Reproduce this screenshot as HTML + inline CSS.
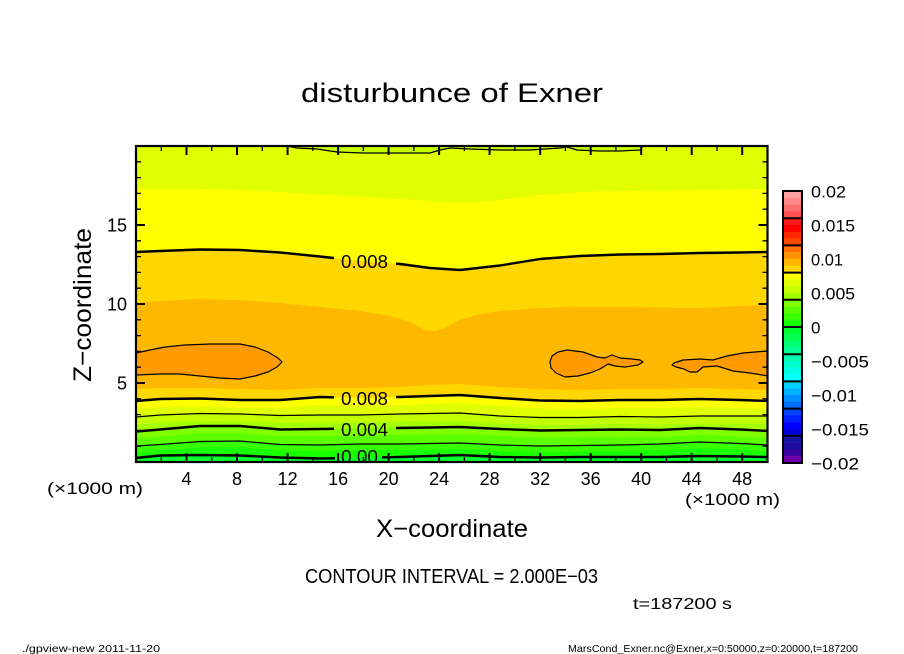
<!DOCTYPE html>
<html><head><meta charset="utf-8"><style>
html,body{margin:0;padding:0;background:#fff;}
svg{display:block;}
text{font-family:"Liberation Sans",sans-serif;fill:#000;}
</style></head><body>
<svg width="904" height="654" viewBox="0 0 904 654" xmlns="http://www.w3.org/2000/svg">
<defs>
<clipPath id="pc"><rect x="136" y="146" width="631.5" height="316"/></clipPath>
<mask id="lm" maskUnits="userSpaceOnUse" x="0" y="0" width="904" height="654">
<rect x="0" y="0" width="904" height="654" fill="#fff"/>
<rect x="334" y="250" width="62" height="22" fill="#000"/>
<rect x="334" y="390" width="62" height="20" fill="#000"/>
<rect x="334" y="420" width="62" height="20" fill="#000"/>
<rect x="335" y="447" width="47" height="20" fill="#000"/>
</mask>
</defs>

<text x="301" y="102" font-size="27" textLength="302" lengthAdjust="spacingAndGlyphs">disturbunce of Exner</text>

<g clip-path="url(#pc)">
<rect x="136" y="146" width="632" height="316" fill="#E0FF00"/>
<path fill="#C8FF00" d="M287,146 L297,148 L317,149 L337,152 L363,153 L390,153 L413,153 L430,153 L440,150 L450,148 L470,149 L500,150 L530,150 L560,148 L567,147 L577,150 L600,151 L620,151 L640,150 L643,146 Z"/>
<path fill="#FFFF00" d="M136,462 L136,189 L160,189 L200,189 L240,190 L280,192 L320,194.5 L360,196.5 L400,199 L430,201 L460,203 L500,200 L540,195 L580,192 L620,191 L660,190.5 L700,190 L740,189.5 L768,189 L768,462 Z"/>
<path fill="#FFD700" d="M136,462 L136,252 L160,251 L200,249.5 L240,250 L280,252.5 L320,256.5 L360,261 L400,264 L430,268 L460,270 L500,265.5 L540,259 L580,256 L620,254.5 L660,254 L700,253 L740,252.5 L768,252 L768,462 Z"/>
<path fill="#FFB800" d="M136,462 L136,303 L160,301 L200,299 L240,300 L280,303 L320,307 L360,311 L390,316 L410,322 L425,330 L435,331 L445,328 L460,320 L480,314 L500,311 L540,308 L580,307 L620,307 L660,307.5 L700,308 L740,306 L768,305 L768,462 Z"/>
<path fill="#FF9A00" d="M136,353 L150,350 L165,347 L185,345 L210,344 L240,344 L255,347 L268,352 L278,358 L282,362 L277,367 L268,372 L255,376 L240,379 L220,378 L200,376 L180,374 L160,374 L136,375 Z"/>
<path fill="#FF9A00" d="M550,362 L552,356 L558,352 L567,350 L583,352 L597,357 L605,358 L612,355 L620,358 L632,359 L640,360 L643,362 L638,365 L625,367 L615,366 L608,364 L600,369 L590,373 L578,376 L565,377 L556,373 L551,368 Z"/>
<path fill="#FF9A00" d="M768,351 L755,352 L743,353 L727,356 L713,360 L700,359 L683,360 L674,363 L672,365 L676,367 L684,369 L690,372 L697,372 L703,367 L717,366 L733,371 L750,373 L768,376 Z"/>
<path fill="#FFD700" d="M136,462 L136,389 L160,388 L200,388 L240,389 L280,390 L320,388 L360,388 L400,387 L430,385 L460,384 L500,387 L540,389 L580,390 L620,389 L660,389 L700,388 L740,389 L768,390 L768,462 Z"/>
<path fill="#FFFF00" d="M136,462 L136,401 L160,399 L200,398.5 L240,400 L280,400 L320,397 L360,398 L400,397 L430,396 L460,395 L500,398 L540,400.5 L580,401 L620,400 L660,400 L700,399 L740,400 L768,401 L768,462 Z"/>
<path fill="#E0FF00" d="M136,462 L136,409 L160,407 L200,406.5 L240,408 L280,408 L320,405 L360,406 L400,405 L430,404 L460,403 L500,406 L540,408.5 L580,409 L620,408 L660,408 L700,407 L740,408 L768,409 L768,462 Z"/>
<path fill="#C4FF00" d="M136,462 L136,417 L160,415 L200,413.5 L240,414 L280,415.5 L320,415 L360,415 L400,414 L430,413.5 L460,413 L500,416 L540,417.5 L580,417.5 L620,416.5 L660,417 L700,416 L740,416 L768,416 L768,462 Z"/>
<path fill="#A4FF00" d="M136,462 L136,424.5 L160,422.5 L200,421 L240,421.5 L280,423 L320,422.5 L360,422.5 L400,421.5 L430,421 L460,420.5 L500,423.5 L540,425 L580,425 L620,424 L660,424.5 L700,423.5 L740,423.5 L768,423.5 L768,462 Z"/>
<path fill="#80FF00" d="M136,462 L136,431.5 L160,429.5 L200,426 L240,426 L280,429.5 L320,429 L360,428.5 L400,428 L430,427.5 L460,427 L500,429 L540,430.5 L580,430 L620,429.5 L660,430 L700,428 L740,429.5 L768,431 L768,462 Z"/>
<path fill="#5CFF00" d="M136,462 L136,438.5 L160,436.5 L200,433 L240,433 L280,436.5 L320,436 L360,435.5 L400,435 L430,434.5 L460,434 L500,436 L540,437.5 L580,437 L620,436.5 L660,437 L700,435 L740,436.5 L768,438 L768,462 Z"/>
<path fill="#38FF00" d="M136,462 L136,446 L160,444.5 L200,441.5 L240,441 L280,444.5 L320,445 L360,444 L400,444 L430,443.5 L460,443 L500,445 L540,446 L580,445.5 L620,445 L660,444 L700,442 L740,443.5 L768,445 L768,462 Z"/>
<path fill="#1AFF00" d="M136,462 L136,452 L160,450.5 L200,447.5 L240,447 L280,450.5 L320,451 L360,450 L400,450 L430,449.5 L460,449 L500,451 L540,452 L580,451.5 L620,451 L660,450 L700,448 L740,449.5 L768,451 L768,462 Z"/>
<path fill="#00FF30" d="M136,462 L136,458 L160,455.5 L200,455 L240,455.5 L280,457.5 L320,458.5 L360,458 L400,457 L430,456 L460,455 L500,457 L540,457.5 L580,457 L620,457 L660,457 L700,456 L740,456.5 L768,457 L768,462 Z"/>

<g fill="none" stroke="#000" stroke-linejoin="round" mask="url(#lm)">
<path stroke-width="1.2" d="M287,146 L297,148 L317,149 L337,152 L363,153 L390,153 L413,153 L430,153 L440,150 L450,148 L470,149 L500,150 L530,150 L560,148 L567,147 L577,150 L600,151 L620,151 L640,150 L643,146"/>
<path stroke-width="2.4" d="M136,252 L160,251 L200,249.5 L240,250 L280,252.5 L320,256.5 L360,261 L400,264 L430,268 L460,270 L500,265.5 L540,259 L580,256 L620,254.5 L660,254 L700,253 L740,252.5 L768,252"/>
<path stroke-width="1.2" d="M136,353 L150,350 L165,347 L185,345 L210,344 L240,344 L255,347 L268,352 L278,358 L282,362 L277,367 L268,372 L255,376 L240,379 L220,378 L200,376 L180,374 L160,374 L136,375"/>
<path stroke-width="1.2" d="M550,362 L552,356 L558,352 L567,350 L583,352 L597,357 L605,358 L612,355 L620,358 L632,359 L640,360 L643,362 L638,365 L625,367 L615,366 L608,364 L600,369 L590,373 L578,376 L565,377 L556,373 L551,368 Z"/>
<path stroke-width="1.2" d="M768,351 L755,352 L743,353 L727,356 L713,360 L700,359 L683,360 L674,363 L672,365 L676,367 L684,369 L690,372 L697,372 L703,367 L717,366 L733,371 L750,373 L768,376"/>
<path stroke-width="2.4" d="M136,401 L160,399 L200,398.5 L240,400 L280,400 L320,397 L360,398 L400,397 L430,396 L460,395 L500,398 L540,400.5 L580,401 L620,400 L660,400 L700,399 L740,400 L768,401"/>
<path stroke-width="1.2" d="M136,417 L160,415 L200,413.5 L240,414 L280,415.5 L320,415 L360,415 L400,414 L430,413.5 L460,413 L500,416 L540,417.5 L580,417.5 L620,416.5 L660,417 L700,416 L740,416 L768,416"/>
<path stroke-width="2.4" d="M136,431.5 L160,429.5 L200,426 L240,426 L280,429.5 L320,429 L360,428.5 L400,428 L430,427.5 L460,427 L500,429 L540,430.5 L580,430 L620,429.5 L660,430 L700,428 L740,429.5 L768,431"/>
<path stroke-width="1.2" d="M136,446 L160,444.5 L200,441.5 L240,441 L280,444.5 L320,445 L360,444 L400,444 L430,443.5 L460,443 L500,445 L540,446 L580,445.5 L620,445 L660,444 L700,442 L740,443.5 L768,445"/>
<path stroke-width="2.4" d="M136,458 L160,455.5 L200,455 L240,455.5 L280,457.5 L320,458.5 L360,458 L400,457 L430,456 L460,455 L500,457 L540,457.5 L580,457 L620,457 L660,457 L700,456 L740,456.5 L768,457"/>
</g>
<text x="341" y="268" font-size="18" textLength="47" lengthAdjust="spacingAndGlyphs">0.008</text>
<text x="341" y="405" font-size="18" textLength="47" lengthAdjust="spacingAndGlyphs">0.008</text>
<text x="341" y="436" font-size="18" textLength="47" lengthAdjust="spacingAndGlyphs">0.004</text>
<text x="341" y="463" font-size="18" textLength="37" lengthAdjust="spacingAndGlyphs">0.00</text>
</g>

<!-- ticks -->
<g stroke="#000" fill="none">
<path stroke-width="2" d="M186.5,462v-9M237,462v-9M287.6,462v-9M338.1,462v-9M388.6,462v-9M439.1,462v-9M489.6,462v-9M540.2,462v-9M590.7,462v-9M641.2,462v-9M691.7,462v-9M742.2,462v-9
M186.5,146v9M237,146v9M287.6,146v9M338.1,146v9M388.6,146v9M439.1,146v9M489.6,146v9M540.2,146v9M590.7,146v9M641.2,146v9M691.7,146v9M742.2,146v9
M136,383h9M136,304h9M136,225h9M767.5,383h-9M767.5,304h-9M767.5,225h-9"/>
<path stroke-width="1.3" d="M161.3,462v-5M211.8,462v-5M262.3,462v-5M312.8,462v-5M363.3,462v-5M413.9,462v-5M464.4,462v-5M514.9,462v-5M565.4,462v-5M615.9,462v-5M666.5,462v-5M717,462v-5
M161.3,146v5M211.8,146v5M262.3,146v5M312.8,146v5M363.3,146v5M413.9,146v5M464.4,146v5M514.9,146v5M565.4,146v5M615.9,146v5M666.5,146v5M717,146v5
M136,446.2h5M136,430.4h5M136,414.6h5M136,398.8h5M136,367.2h5M136,351.4h5M136,335.6h5M136,319.8h5M136,288.2h5M136,272.4h5M136,256.6h5M136,240.8h5M136,209.2h5M136,193.4h5M136,177.6h5M136,161.8h5
M767.5,446.2h-5M767.5,430.4h-5M767.5,414.6h-5M767.5,398.8h-5M767.5,367.2h-5M767.5,351.4h-5M767.5,335.6h-5M767.5,319.8h-5M767.5,288.2h-5M767.5,272.4h-5M767.5,256.6h-5M767.5,240.8h-5M767.5,209.2h-5M767.5,193.4h-5M767.5,177.6h-5M767.5,161.8h-5"/>
<rect x="136" y="146" width="631.5" height="316" stroke-width="2.2"/>
</g>

<!-- axis labels -->
<g font-size="18" text-anchor="middle">
<text x="186.5" y="485">4</text><text x="237" y="485">8</text><text x="287.6" y="485">12</text>
<text x="338.1" y="485">16</text><text x="388.6" y="485">20</text><text x="439.1" y="485">24</text>
<text x="489.6" y="485">28</text><text x="540.2" y="485">32</text><text x="590.7" y="485">36</text>
<text x="641.2" y="485">40</text><text x="691.7" y="485">44</text><text x="742.2" y="485">48</text>
</g>
<g font-size="18" text-anchor="end">
<text x="127" y="231.5">15</text><text x="127" y="310.5">10</text><text x="127" y="389.5">5</text>
</g>
<text x="47" y="494" font-size="17" textLength="96" lengthAdjust="spacingAndGlyphs">(×1000 m)</text>
<text x="685" y="505" font-size="17" textLength="95" lengthAdjust="spacingAndGlyphs">(×1000 m)</text>
<text x="376" y="537" font-size="25" textLength="152" lengthAdjust="spacingAndGlyphs">X−coordinate</text>
<text transform="translate(91,382) rotate(-90)" font-size="25" textLength="154" lengthAdjust="spacingAndGlyphs">Z−coordinate</text>
<text x="305" y="583" font-size="20" textLength="293" lengthAdjust="spacingAndGlyphs">CONTOUR INTERVAL = 2.000E−03</text>
<text x="633" y="609" font-size="16" textLength="99" lengthAdjust="spacingAndGlyphs">t=187200 s</text>
<text x="22" y="652" font-size="10" textLength="138" lengthAdjust="spacingAndGlyphs">./gpview-new  2011-11-20</text>
<text x="568" y="652" font-size="10" textLength="290" lengthAdjust="spacingAndGlyphs">MarsCond_Exner.nc@Exner,x=0:50000,z=0:20000,t=187200</text>

<!-- colorbar -->
<g>
<rect x="783" y="191" width="19" height="7" fill="#FFA0A0"/>
<rect x="783" y="197.8" width="19" height="7" fill="#FF8888"/>
<rect x="783" y="204.6" width="19" height="7" fill="#FF6E6E"/>
<rect x="783" y="211.4" width="19" height="7" fill="#FF5050"/>
<rect x="783" y="218.2" width="19" height="7" fill="#FF1818"/>
<rect x="783" y="225" width="19" height="7" fill="#FF0000"/>
<rect x="783" y="231.8" width="19" height="7" fill="#FF2800"/>
<rect x="783" y="238.6" width="19" height="7" fill="#FF4A00"/>
<rect x="783" y="245.4" width="19" height="7" fill="#FF7000"/>
<rect x="783" y="252.2" width="19" height="7" fill="#FF9400"/>
<rect x="783" y="259" width="19" height="7" fill="#FFB600"/>
<rect x="783" y="265.8" width="19" height="7" fill="#FFD600"/>
<rect x="783" y="272.6" width="19" height="7" fill="#FFFF00"/>
<rect x="783" y="279.4" width="19" height="7" fill="#E2FF00"/>
<rect x="783" y="286.2" width="19" height="7" fill="#C6FF00"/>
<rect x="783" y="293" width="19" height="7" fill="#A6FF00"/>
<rect x="783" y="299.8" width="19" height="7" fill="#80FF00"/>
<rect x="783" y="306.6" width="19" height="7" fill="#5CFF00"/>
<rect x="783" y="313.4" width="19" height="7" fill="#38FF00"/>
<rect x="783" y="320.2" width="19" height="7" fill="#14FF00"/>
<rect x="783" y="327" width="19" height="7" fill="#00FF30"/>
<rect x="783" y="333.8" width="19" height="7" fill="#00FF50"/>
<rect x="783" y="340.6" width="19" height="7" fill="#00FF72"/>
<rect x="783" y="347.4" width="19" height="7" fill="#00FF94"/>
<rect x="783" y="354.2" width="19" height="7" fill="#00FFB2"/>
<rect x="783" y="361" width="19" height="7" fill="#00FFCC"/>
<rect x="783" y="367.8" width="19" height="7" fill="#00FFE6"/>
<rect x="783" y="374.6" width="19" height="7" fill="#00FFFF"/>
<rect x="783" y="381.4" width="19" height="7" fill="#00D4FF"/>
<rect x="783" y="388.2" width="19" height="7" fill="#00B2FF"/>
<rect x="783" y="395" width="19" height="7" fill="#0090FF"/>
<rect x="783" y="401.8" width="19" height="7" fill="#006EFF"/>
<rect x="783" y="408.6" width="19" height="7" fill="#0044FF"/>
<rect x="783" y="415.4" width="19" height="7" fill="#0022FF"/>
<rect x="783" y="422.2" width="19" height="7" fill="#0000FF"/>
<rect x="783" y="429" width="19" height="7" fill="#0000DC"/>
<rect x="783" y="435.8" width="19" height="7" fill="#1414A0"/>
<rect x="783" y="442.6" width="19" height="7" fill="#1E0A9C"/>
<rect x="783" y="449.4" width="19" height="7" fill="#3C00A0"/>
<rect x="783" y="456.2" width="19" height="6.8" fill="#6E00A8"/>
<path stroke="#000" stroke-width="2" fill="none" d="M783,218.2h19M783,245.4h19M783,272.6h19M783,299.8h19M783,327h19M783,354.2h19M783,381.4h19M783,408.6h19M783,435.8h19"/>
<rect x="783" y="191" width="19" height="272" fill="none" stroke="#000" stroke-width="2"/>
</g>
<g font-size="17">
<text x="811" y="197.5" textLength="35" lengthAdjust="spacingAndGlyphs">0.02</text>
<text x="811" y="231.5" textLength="44" lengthAdjust="spacingAndGlyphs">0.015</text>
<text x="811" y="265.5" textLength="32" lengthAdjust="spacingAndGlyphs">0.01</text>
<text x="811" y="299.5" textLength="44" lengthAdjust="spacingAndGlyphs">0.005</text>
<text x="811" y="333.5">0</text>
<text x="811" y="367.5" textLength="58" lengthAdjust="spacingAndGlyphs">−0.005</text>
<text x="811" y="401.5" textLength="46" lengthAdjust="spacingAndGlyphs">−0.01</text>
<text x="811" y="435.5" textLength="58" lengthAdjust="spacingAndGlyphs">−0.015</text>
<text x="811" y="469.5" textLength="48" lengthAdjust="spacingAndGlyphs">−0.02</text>
</g>
</svg>
</body></html>
